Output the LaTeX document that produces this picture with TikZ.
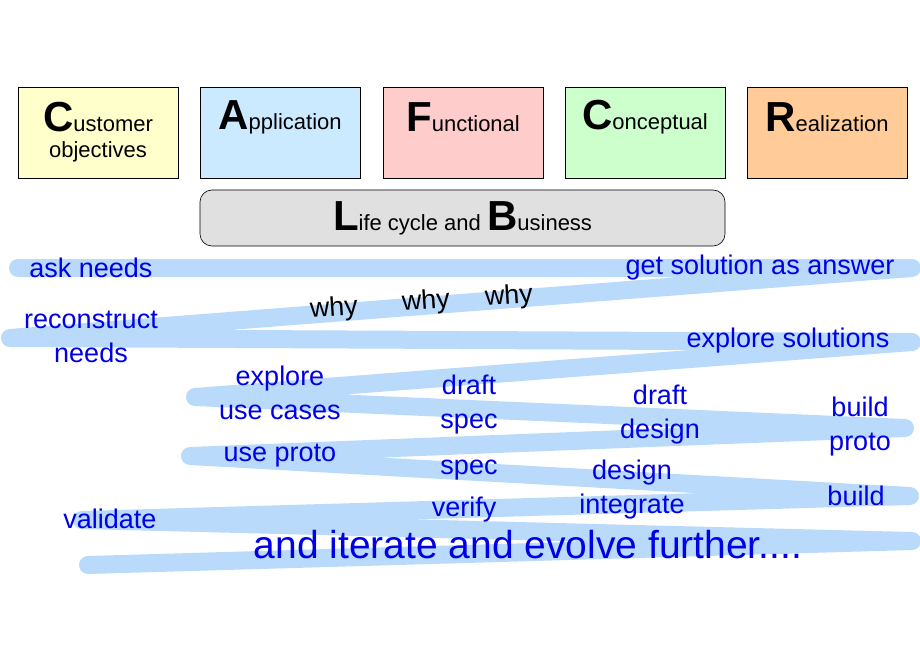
\documentclass[tikz,border=0pt]{standalone}
\usepackage{fontspec}
\setmainfont{Liberation Sans}
\usepackage{tikz}
\definecolor{zig}{RGB}{185,218,250}
\definecolor{txt}{RGB}{0,0,230}
\tikzset{
  view/.style={draw, line width=0.6pt, minimum width=160pt, minimum height=91pt, inner sep=0pt},
  lbl/.style={text=txt, font=\fontsize{27}{34}\selectfont, align=center, inner sep=0pt}
}
\newcommand{\initial}[2]{{\fontsize{42}{42}\selectfont\bfseries #1}{\fontsize{22}{28}\selectfont #2}}
\begin{document}
\begin{tikzpicture}[x=1pt,y=-1pt]
\useasboundingbox (0,0) rectangle (920,660);

% views
\node[view, fill={rgb,255:red,255;green,255;blue,204}] (cust) at (98,132.5) {};
\node[view, fill={rgb,255:red,204;green,234;blue,255}] (appl) at (280,132.5) {};
\node[view, fill={rgb,255:red,255;green,204;blue,204}] (func) at (463,132.5) {};
\node[view, fill={rgb,255:red,204;green,255;blue,204}] (conc) at (645,132.5) {};
\node[view, fill={rgb,255:red,255;green,204;blue,153}] (real) at (827,132.5) {};
\node (custt) at (98,117) {\initial{C}{ustomer}};
\node[font=\fontsize{22}{28}\selectfont] (custo) at (98,152) {objectives};
\node (applt) at (280,117) {\initial{A}{pplication}};
\node (funct) at (463,117) {\initial{F}{unctional}};
\node (conct) at (645,117) {\initial{C}{onceptual}};
\node (realt) at (827,117) {\initial{R}{ealization}};
\node[draw, line width=0.6pt, rounded corners=12pt, fill={rgb,255:red,224;green,224;blue,224},
  minimum width=525pt, minimum height=56pt] (life) at (462.5,218) {\initial{L}{ife cycle and }\initial{B}{usiness}};

% zigzag
\draw[zig, line width=18pt, line cap=round, line join=round]
  (18,268) -- (912,268) -- (10,338) -- (912,342) -- (195,397) -- (905,428)
  -- (190,456) -- (910,496) -- (82,520) -- (912,541) -- (88,565);

% texts
\node[lbl] (ask) at (91,268) {ask needs};
\node[lbl] (get) at (760,268) {get solution as answer};
\node[lbl, rotate=4, text=black] (why1) at (334,309) {why};
\node[lbl, rotate=4, text=black] (why2) at (426,302) {why};
\node[lbl, rotate=4, text=black] (why3) at (509,297) {why};
\node[lbl] (recon) at (91,337) {reconstruct\\needs};
\node[lbl] (explsol) at (788,341) {explore solutions};
\node[lbl] (explu) at (280,393) {explore\\use cases};
\node[lbl] (dspec) at (469,405) {draft\\spec};
\node[lbl] (ddes) at (660,415) {draft\\design};
\node[lbl] (bproto) at (860,427) {build\\proto};
\node[lbl] (useproto) at (280,456) {use proto};
\node[lbl] (spec) at (469,470) {spec};
\node[lbl] (des) at (632,490) {design\\integrate};
\node[lbl] (build) at (856,496) {build};
\node[lbl] (valid) at (110,519) {validate};
\node[lbl] (verify) at (464,510) {verify};
\node[lbl, font=\fontsize{39}{42}\selectfont] (iter) at (528,545) {and iterate and evolve further....};
\end{tikzpicture}
\end{document}
